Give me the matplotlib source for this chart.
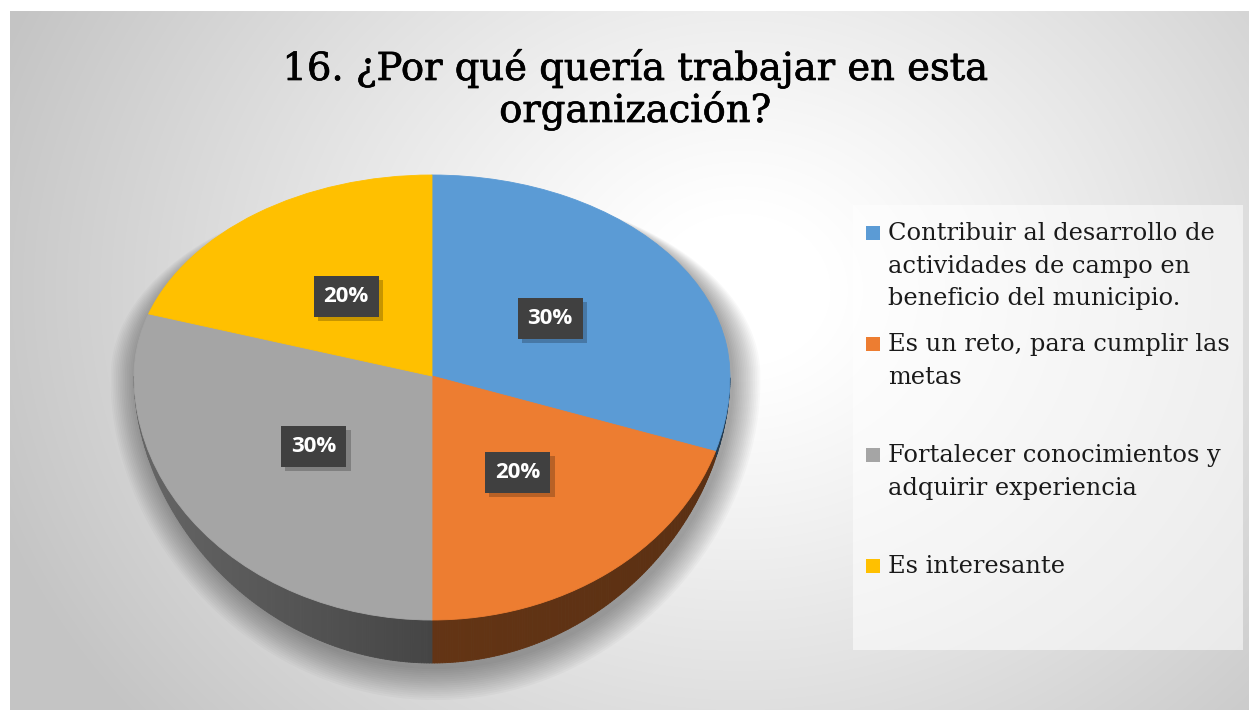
import numpy as np
import matplotlib
matplotlib.use('Agg')
import matplotlib.pyplot as plt
import matplotlib.patheffects as pe
from matplotlib.patches import Rectangle, Polygon
from matplotlib.collections import PolyCollection
from matplotlib.colors import to_rgb

# ---------------- data ----------------
title = "16. ¿Por qué quería trabajar en esta\norganización?"
categories = ["Contribuir al desarrollo de\nactividades de campo en\nbeneficio del municipio.",
              "Es un reto, para cumplir las\nmetas",
              "Fortalecer conocimientos y\nadquirir experiencia",
              "Es interesante"]
values = [30, 20, 30, 20]
colors = ["#5B9BD5", "#ED7D31", "#A5A5A5", "#FFC000"]

# ---------------- figure ----------------
W, H = 1249, 710
fig = plt.figure(figsize=(W / 100, H / 100), dpi=100)
fig.patch.set_facecolor('white')


def px_axes(x0, y0, x1, y1):
    return fig.add_axes([x0 / W, 1 - y1 / H, (x1 - x0) / W, (y1 - y0) / H])


# background radial gradient panel
bg = px_axes(10, 11, W, H)
yy, xx = np.mgrid[11:H, 10:W]
r = np.hypot((xx - 740) / 1.0, (yy - 290) / 0.85)
t = np.clip((r - 90) / 700, 0, 1)
g = 1 - 0.23 * t ** 1.1
bg.imshow(np.dstack([g, g, g]), extent=(10, W, H, 11), aspect='auto',
          interpolation='bilinear')
bg.set_xlim(10, W)
bg.set_ylim(H, 11)
bg.set_axis_off()

# ---------------- pie (3D look) ----------------
cx, cy = 432, 376
a_px, b_up, b_dn = 298, 201, 244
k = b_up / b_dn
xl = (-1.4, 1.4)
yl = (-(H - cy) / b_dn, 1.2)
pax = px_axes(cx + xl[0] * a_px, cy - yl[1] * b_up, cx + xl[1] * a_px, H)
pax.set_yscale('function', functions=(lambda y: np.where(y > 0, y * k, y),
                                       lambda y: np.where(y > 0, y / k, y)))
pax.patch.set_alpha(0)

depth = 43 / b_dn


def wall_depth(tv):
    return depth * np.clip(-np.sin(tv), 0, 1) ** 1.5


# soft shadow (mostly below / right of the pie)
tt = np.linspace(0, 2 * np.pi, 400)
for i in range(16):
    e = 0.006 * i
    xs = np.cos(tt) * (1 + e) + 0.012
    ys = np.where(np.sin(tt) > 0, np.sin(tt) * 0.95,
                  (np.sin(tt) - wall_depth(tt)) * (1 + 1.2 * e) - 0.025)
    pax.add_patch(Polygon(np.column_stack([xs, ys]), closed=True, fc='black',
                          ec='none', alpha=0.022, zorder=0.2))

wedges, texts, autotexts = pax.pie(values, colors=colors, startangle=90,
                                    counterclock=False, autopct='%1.0f%%',
                                    pctdistance=0.49,
                                    wedgeprops=dict(linewidth=0.6))
for w, c in zip(wedges, colors):
    w.set_edgecolor(c)
    w.set_zorder(2)

# side walls
bounds = 90 - 360 * np.concatenate([[0], np.cumsum(values)]) / np.sum(values)
polys, fcs = [], []
for i, c in enumerate(colors):
    hi, lo = np.deg2rad(bounds[i]), np.deg2rad(bounds[i + 1])
    ts = np.linspace(lo, hi, max(int((bounds[i] - bounds[i + 1]) * 2), 2))
    base = np.array(to_rgb(c))
    for t1, t2 in zip(ts[:-1], ts[1:]):
        if np.sin(t1) > 1e-9 or np.sin(t2) > 1e-9:
            continue
        tm = 0.5 * (t1 + t2)
        cc = np.cos(tm - np.pi)
        f = 0.42 + 0.2 * max(cc, 0) - 0.04 * max(-cc, 0)
        polys.append([(np.cos(t1), np.sin(t1)), (np.cos(t2), np.sin(t2)),
                      (np.cos(t2), np.sin(t2) - wall_depth(t2)),
                      (np.cos(t1), np.sin(t1) - wall_depth(t1))])
        fcs.append(base * f)
pax.add_collection(PolyCollection(polys, facecolors=fcs, edgecolors=fcs,
                                  linewidths=0.6, zorder=1))

for at in autotexts:
    at.set_color('white')
    at.set_fontsize(16)
    at.set_fontweight('bold')
    at.set_family(['Open Sans', 'DejaVu Sans'])
    at.set_zorder(5)
    at.set_bbox(dict(boxstyle='square,pad=0.45', fc='#404040', ec='none'))
    at.get_bbox_patch().set_path_effects([
        pe.SimplePatchShadow(offset=(3, -3), shadow_rgbFace='black', alpha=0.22),
        pe.Normal()])

pax.set_aspect('auto')
pax.set_xlim(*xl)
pax.set_ylim(*yl)
pax.set_axis_off()

# ---------------- overlay: title + legend ----------------
ov = px_axes(0, 0, W, H)
ov.set_xlim(0, W)
ov.set_ylim(H, 0)
ov.set_axis_off()
ov.patch.set_alpha(0)

renderer = fig.canvas.get_renderer()


def fit(txt, target):
    bb = txt.get_window_extent(renderer=renderer)
    txt.set_fontsize(txt.get_fontsize() * target / bb.width)


serif = ['DejaVu Serif']
tlines = title.split('\n')
tl_objs = []
for i, (line, yb) in enumerate(zip(tlines, [80, 122])):
    tobj = ov.text(635, yb, line, ha='center', va='baseline', fontsize=30,
                   family=serif, color='black',
                   path_effects=[pe.withStroke(linewidth=0.5, foreground='black')])
    tl_objs.append(tobj)
fit(tl_objs[0], 706)
tl_objs[1].set_fontsize(tl_objs[0].get_fontsize())

# legend box
ov.add_patch(Rectangle((853, 205), 390, 445, fc='white', ec='none', alpha=0.55))
item_base = [240, 351, 462, 573]
line_step = 32.5
leg_objs = []
for c, lab, yb in zip(colors, categories, item_base):
    ov.add_patch(Rectangle((866, yb - 14), 14, 14, fc=c, ec='none'))
    for j, line in enumerate(lab.split('\n')):
        o = ov.text(888, yb + j * line_step, line, ha='left', va='baseline',
                    fontsize=17, family=serif, color='#1a1a1a')
        leg_objs.append(o)
fit(leg_objs[0], 327)
for o in leg_objs[1:]:
    o.set_fontsize(leg_objs[0].get_fontsize())

fig.savefig('out.png', dpi=100, facecolor='white')
